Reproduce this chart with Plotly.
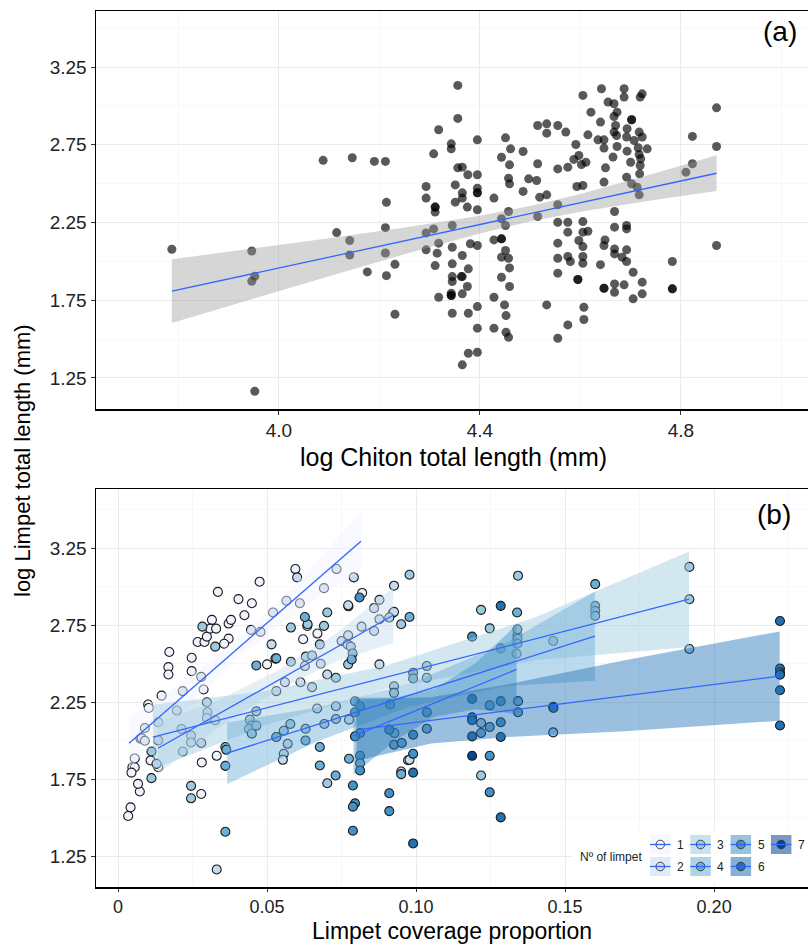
import plotly.graph_objects as go

# ---------------- panel (a): log chiton length vs log limpet length ----------------
chiton_points = [
    (3.787, 2.078), (3.946, 2.067), (3.952, 1.904), (3.946, 1.872), (3.952, 1.164),
    (4.088, 2.650), (4.146, 2.667), (4.115, 2.185), (4.141, 2.134), (4.141, 2.041),
    (4.176, 1.932), (4.190, 2.643), (4.212, 2.643), (4.212, 2.217), (4.212, 2.054),
    (4.214, 2.380), (4.231, 1.981), (4.214, 1.908), (4.231, 1.660),
    (4.356, 3.132), (4.356, 2.920), (4.318, 2.847), (4.343, 2.756), (4.343, 2.724),
    (4.308, 2.692), (4.395, 2.782), (4.451, 2.795), (4.461, 2.724), (4.443, 2.670),
    (4.486, 2.707), (4.459, 2.621), (4.515, 2.874), (4.533, 2.885), (4.533, 2.825),
    (4.555, 2.874), (4.356, 2.602), (4.365, 2.606), (4.376, 2.557), (4.395, 2.557),
    (4.457, 2.535), (4.459, 2.499), (4.497, 2.531), (4.513, 2.520), (4.515, 2.628),
    (4.555, 2.595), (4.293, 2.482), (4.293, 2.407), (4.351, 2.492), (4.365, 2.441),
    (4.365, 2.407), (4.395, 2.471), (4.395, 2.441), (4.351, 2.381), (4.375, 2.349),
    (4.395, 2.332), (4.428, 2.407), (4.486, 2.450), (4.519, 2.413), (4.533, 2.428),
    (4.555, 2.364), (4.311, 2.349), (4.311, 2.317), (4.457, 2.321), (4.443, 2.274),
    (4.451, 2.231), (4.515, 2.289), (4.555, 2.252), (4.345, 2.231), (4.308, 2.209),
    (4.293, 2.183), (4.318, 2.117), (4.293, 2.074), (4.315, 2.053), (4.311, 1.973),
    (4.345, 2.091), (4.381, 2.113), (4.395, 2.102), (4.365, 2.038), (4.345, 1.984),
    (4.345, 1.902), (4.345, 1.870), (4.363, 1.902), (4.377, 1.952), (4.375, 1.838),
    (4.365, 1.791), (4.343, 1.795), (4.343, 1.780), (4.318, 1.769), (4.428, 2.138),
    (4.443, 2.145), (4.443, 2.027), (4.451, 2.070), (4.457, 2.020), (4.459, 1.958),
    (4.443, 1.898), (4.459, 1.838), (4.428, 1.769), (4.449, 1.720), (4.452, 1.651),
    (4.452, 1.544), (4.457, 1.512), (4.428, 1.570), (4.395, 1.709), (4.395, 1.570),
    (4.377, 1.666), (4.345, 1.666), (4.395, 1.415), (4.377, 1.409), (4.365, 1.334),
    (4.555, 2.117), (4.555, 2.020), (4.555, 1.924), (4.533, 1.720), (4.555, 1.505),
    (4.443, 2.145), (4.311, 2.349), (4.395, 2.441), (4.343, 1.780), (4.365, 1.902),
    (4.605, 3.068), (4.642, 3.111), (4.687, 3.111), (4.687, 3.057), (4.723, 3.078),
    (4.719, 3.057), (4.655, 3.025), (4.667, 3.014), (4.673, 2.960), (4.621, 2.960),
    (4.667, 2.932), (4.640, 2.896), (4.702, 2.911), (4.702, 2.911), (4.571, 2.832),
    (4.670, 2.874), (4.667, 2.832), (4.672, 2.810), (4.693, 2.853), (4.717, 2.832),
    (4.723, 2.800), (4.615, 2.814), (4.635, 2.782), (4.647, 2.782), (4.692, 2.800),
    (4.707, 2.778), (4.591, 2.752), (4.647, 2.729), (4.673, 2.739), (4.693, 2.709),
    (4.715, 2.731), (4.717, 2.688), (4.733, 2.724), (4.720, 2.660), (4.597, 2.681),
    (4.587, 2.656), (4.611, 2.638), (4.602, 2.623), (4.665, 2.671), (4.700, 2.638),
    (4.719, 2.617), (4.575, 2.606), (4.650, 2.602), (4.718, 2.563), (4.692, 2.542),
    (4.647, 2.510), (4.593, 2.482), (4.605, 2.488), (4.702, 2.499), (4.713, 2.477),
    (4.717, 2.428), (4.810, 2.574), (4.823, 2.628), (4.823, 2.804), (4.871, 2.988),
    (4.871, 2.739), (4.871, 2.102), (4.783, 1.999), (4.783, 1.823), (4.783, 1.823),
    (4.668, 2.321), (4.668, 2.220), (4.692, 2.231), (4.692, 2.209), (4.575, 2.252),
    (4.575, 2.188), (4.605, 2.256), (4.605, 2.188), (4.615, 2.194), (4.597, 2.134),
    (4.605, 2.095), (4.649, 2.138), (4.647, 2.102), (4.668, 2.080), (4.668, 2.048),
    (4.692, 2.074), (4.683, 2.027), (4.692, 1.999), (4.575, 2.031), (4.580, 1.999),
    (4.605, 2.031), (4.605, 1.988), (4.640, 1.979), (4.705, 1.930), (4.595, 1.883),
    (4.595, 1.883), (4.647, 1.827), (4.647, 1.827), (4.668, 1.855), (4.668, 1.801),
    (4.687, 1.849), (4.723, 1.866), (4.723, 1.791), (4.705, 1.759), (4.607, 1.705),
    (4.607, 1.626), (4.575, 1.591),
]
fit_a_x = [3.787, 4.871]
fit_a_y = [1.808, 2.567]
band_a_x = [3.787, 3.95, 4.10, 4.25, 4.40, 4.50, 4.60, 4.75, 4.871]
band_a_lo = [1.603, 1.761, 1.905, 2.046, 2.180, 2.257, 2.320, 2.396, 2.452]
band_a_hi = [2.013, 2.083, 2.149, 2.218, 2.294, 2.357, 2.434, 2.568, 2.682]

# ---------------- panel (b): limpet coverage vs log limpet length, by Nº of limpet ----------------
g1_pts = [(0.0034, 1.511), (0.0042, 1.567), (0.0073, 1.670), (0.0067, 1.720), (0.0048, 1.828),
          (0.0056, 1.828), (0.0045, 1.793), (0.0056, 1.885), (0.0075, 2.013), (0.0101, 2.235),
          (0.0103, 2.213), (0.0146, 2.293), (0.0172, 2.576), (0.0169, 2.478), (0.0169, 2.430),
          (0.0247, 2.539), (0.0247, 2.452), (0.0287, 2.333), (0.0267, 2.641), (0.0290, 2.641),
          (0.0298, 2.676), (0.0315, 2.785), (0.0309, 2.728), (0.0329, 2.728), (0.0335, 2.967),
          (0.0371, 2.761), (0.0379, 2.785), (0.0371, 2.663), (0.0356, 2.630), (0.0404, 2.920),
          (0.0424, 2.815), (0.0449, 2.893), (0.0475, 3.033), (0.0281, 1.859), (0.0279, 1.654),
          (0.0331, 1.902), (0.0109, 1.872), (0.0135, 1.828), (0.0595, 3.115), (0.0669, 2.696),
          (0.0621, 2.659), (0.0635, 2.745), (0.0500, 2.496), (0.0773, 2.873), (0.0819, 2.960),
          (0.0922, 2.830), (0.0973, 1.873)]
g2_pts = [(0.0090, 2.083), (0.0079, 2.017), (0.0090, 2.000), (0.0135, 2.120), (0.0135, 2.002),
          (0.0197, 2.196), (0.0213, 2.076), (0.0245, 2.033), (0.0245, 1.989), (0.0279, 1.985),
          (0.0217, 1.930), (0.0298, 2.250), (0.0300, 2.185), (0.0298, 2.148), (0.0326, 2.133),
          (0.0279, 2.415), (0.0217, 2.322), (0.0129, 1.850), (0.0446, 2.720), (0.0478, 2.707),
          (0.0515, 2.626), (0.0331, 1.164), (0.0601, 3.061), (0.0733, 3.115), (0.0791, 3.061),
          (0.0691, 2.991), (0.0565, 2.909), (0.0610, 2.893), (0.0520, 2.833), (0.0772, 2.880),
          (0.0750, 2.648), (0.0772, 2.685), (0.0817, 2.741), (0.0770, 2.626), (0.0877, 2.915),
          (0.0859, 2.861), (0.0926, 3.007), (0.0877, 2.789), (0.0859, 2.713), (0.0926, 2.837),
          (0.0877, 2.496), (0.0680, 2.500), (0.0627, 2.485), (0.0560, 2.380), (0.0612, 2.380),
          (0.0531, 2.322), (0.0651, 2.348), (0.0702, 2.430), (0.0668, 2.209), (0.0731, 2.224),
          (0.0775, 2.137), (0.0569, 1.980), (0.0556, 1.915), (0.0553, 1.876), (0.0978, 1.876),
          (0.0950, 1.800)]
g3_pts = [(0.0112, 1.930), (0.0112, 1.757), (0.0283, 2.741), (0.0326, 2.611), (0.0245, 1.707),
          (0.0245, 1.626), (0.0442, 2.137), (0.0449, 2.098), (0.0439, 2.076), (0.0449, 2.046),
          (0.0464, 2.098), (0.0464, 2.191), (0.0702, 2.833), (0.0636, 2.757), (0.0580, 2.735),
          (0.0691, 2.746), (0.0677, 2.626), (0.0781, 2.611), (0.0772, 2.496), (0.0978, 3.078),
          (0.0910, 2.800), (0.0950, 2.757), (0.0630, 2.546), (0.0651, 2.554), (0.0580, 2.513),
          (0.0731, 2.409), (0.0692, 2.109), (0.0731, 2.141), (0.0629, 2.078), (0.0578, 2.109),
          (0.0556, 2.065), (0.0531, 2.024), (0.0702, 1.724), (0.0926, 2.354), (0.0926, 2.311),
          (0.0927, 2.050), (0.1036, 2.485), (0.1036, 2.409), (0.1342, 3.072), (0.1218, 2.850),
          (0.1247, 2.730), (0.1337, 2.565), (0.1460, 2.648), (0.1460, 2.220), (0.1218, 2.115),
          (0.1460, 2.054), (0.1218, 1.774), (0.1917, 3.129), (0.1917, 2.919), (0.1917, 2.596),
          (0.1340, 2.685)]
g4_pts = [(0.0360, 1.959), (0.0363, 1.941), (0.0360, 1.837), (0.0360, 1.409), (0.0464, 2.489),
          (0.0528, 2.533), (0.0531, 2.024), (0.0627, 2.804), (0.0531, 2.535), (0.0787, 2.567),
          (0.0784, 2.528), (0.0795, 2.256), (0.0812, 2.224), (0.0812, 2.050), (0.0629, 2.002),
          (0.0677, 1.959), (0.0677, 1.839), (0.0730, 1.774), (0.0775, 1.883), (0.0812, 1.902),
          (0.0812, 1.854), (0.0913, 2.235), (0.0978, 2.804), (0.0926, 1.974), (0.0952, 1.985),
          (0.1036, 2.185), (0.1036, 2.078), (0.0990, 2.441), (0.0990, 2.404), (0.1339, 2.833),
          (0.1340, 2.724), (0.1340, 2.663), (0.1340, 2.630), (0.1284, 2.600), (0.1601, 3.017),
          (0.1601, 2.876), (0.1601, 2.843), (0.1601, 2.811), (0.1247, 2.230), (0.1342, 2.257),
          (0.1342, 2.185), (0.1247, 2.089), (0.1218, 2.050), (0.0950, 1.783)]
g5_pts = [(0.0795, 2.185), (0.0795, 2.028), (0.0812, 1.807), (0.0788, 1.709), (0.0795, 1.593),
          (0.0788, 1.572), (0.0788, 1.415), (0.0910, 2.072), (0.0990, 2.039), (0.0990, 1.915),
          (0.0910, 1.659), (0.0910, 1.543), (0.1188, 2.676), (0.1284, 2.257), (0.1284, 2.120),
          (0.1247, 1.902), (0.1247, 1.665), (0.0810, 2.930)]
g6_pts = [(0.0990, 1.793), (0.0990, 1.333), (0.1284, 2.876), (0.1188, 2.272), (0.1188, 2.152),
          (0.1188, 2.133), (0.1188, 2.028), (0.1284, 2.024), (0.1284, 1.502), (0.2221, 2.778),
          (0.2221, 2.469), (0.2221, 2.443), (0.2221, 2.429), (0.2221, 2.328), (0.2221, 2.099),
          (0.1461, 2.213)]
g7_pts = [(0.1188, 1.902)]

group_labels = ["1", "2", "3", "4", "5", "6", "7"]
group_colors = ["#EFF3FF", "#C6DBEF", "#9ECAE1", "#6BAED6", "#4292C6", "#2171B5", "#084594"]

fit_b_x0 = [0.0037, 0.0134, 0.0117, 0.0366, 0.0790, 0.0800]
fit_b_x1 = [0.0815, 0.0923, 0.1916, 0.1600, 0.1337, 0.2220]
fit_b_y0 = [1.984, 1.951, 2.023, 1.919, 2.030, 2.070]
fit_b_y1 = [3.295, 2.815, 2.919, 2.679, 2.463, 2.420]

band_b_x = [[0.0037, 0.023, 0.042, 0.062, 0.0815],
            [0.0134, 0.033, 0.053, 0.073, 0.0923],
            [0.0117, 0.050, 0.090, 0.140, 0.1916],
            [0.0366, 0.067, 0.098, 0.130, 0.1600],
            [0.0790, 0.093, 0.106, 0.120, 0.1337],
            [0.0800, 0.105, 0.130, 0.170, 0.2220]]
band_b_lo = [[1.814, 2.219, 2.564, 2.866, 3.105],
             [1.781, 2.076, 2.320, 2.514, 2.635],
             [1.813, 2.104, 2.338, 2.522, 2.609],
             [1.719, 1.996, 2.222, 2.354, 2.389],
             [1.780, 2.001, 2.154, 2.205, 2.173],
             [1.870, 1.982, 2.023, 2.062, 2.130]]
band_b_hi = [[2.154, 2.399, 2.694, 3.066, 3.485],
             [2.121, 2.256, 2.450, 2.694, 2.995],
             [2.233, 2.324, 2.488, 2.802, 3.229],
             [2.119, 2.216, 2.372, 2.634, 2.969],
             [2.280, 2.281, 2.334, 2.505, 2.753],
             [2.270, 2.282, 2.363, 2.522, 2.710]]

# ---------------- styling ----------------
FONT = "Liberation Sans, Arial, Helvetica, sans-serif"
FIT_COLOR = "#3366FF"
BAND_ALPHA = 0.45
W, H = 808, 945
ML, MR, MT, MB = 96, 0, 11, 58
PW, PH = W - ML - MR, H - MT - MB


def rgba(hex_color, a):
    h = hex_color.lstrip("#")
    r, g, b = int(h[0:2], 16), int(h[2:4], 16), int(h[4:6], 16)
    return f"rgba({r},{g},{b},{a})"


def pxx(px):
    return (px - ML) / PW


def pxy(py):
    return (H - MB - py) / PH


fig = go.Figure()

# panel (a)
ax_x = [p[0] for p in chiton_points]
ax_y = [p[1] for p in chiton_points]
fig.add_trace(go.Scatter(x=ax_x, y=ax_y, mode="markers", xaxis="x", yaxis="y",
                         marker=dict(size=9, color="rgba(0,0,0,0.65)", line=dict(width=0)),
                         showlegend=False, hoverinfo="skip"))
fig.add_trace(go.Scatter(x=band_a_x + band_a_x[::-1], y=band_a_hi + band_a_lo[::-1],
                         xaxis="x", yaxis="y", mode="lines", fill="toself",
                         fillcolor="rgba(153,153,153,0.4)", line=dict(width=0),
                         showlegend=False, hoverinfo="skip"))
fig.add_trace(go.Scatter(x=fit_a_x, y=fit_a_y, mode="lines", xaxis="x", yaxis="y",
                         line=dict(color=FIT_COLOR, width=1.3), showlegend=False, hoverinfo="skip"))

# panel (b) points
for pts, col in zip([g1_pts, g2_pts, g3_pts, g4_pts, g5_pts, g6_pts, g7_pts], group_colors):
    fig.add_trace(go.Scatter(x=[p[0] for p in pts], y=[p[1] for p in pts], mode="markers",
                             xaxis="x2", yaxis="y2",
                             marker=dict(size=9, color=col, line=dict(width=1.1, color="#1a1a1a")),
                             showlegend=False, hoverinfo="skip"))
# panel (b) bands
for i in range(len(band_b_x)):
    bx, lo, hi = band_b_x[i], band_b_lo[i], band_b_hi[i]
    fig.add_trace(go.Scatter(x=bx + bx[::-1], y=hi + lo[::-1], mode="lines", fill="toself",
                             xaxis="x2", yaxis="y2", fillcolor=rgba(group_colors[i], BAND_ALPHA),
                             line=dict(width=0), showlegend=False, hoverinfo="skip"))
# panel (b) fit lines
for i in range(len(fit_b_x0)):
    fig.add_trace(go.Scatter(x=[fit_b_x0[i], fit_b_x1[i]], y=[fit_b_y0[i], fit_b_y1[i]],
                             mode="lines", xaxis="x2", yaxis="y2",
                             line=dict(color=FIT_COLOR, width=1.3), showlegend=False, hoverinfo="skip"))

axis_common = dict(showgrid=True, gridcolor="#EBEBEB", gridwidth=1, zeroline=False,
                   showline=True, linecolor="black", linewidth=1.5,
                   ticks="outside", ticklen=4, tickwidth=1, tickcolor="#333333",
                   tickfont=dict(family=FONT, size=19, color="#222222"))

top_dom = [pxy(409), 1.0]
bot_dom = [0.0, pxy(489)]

fig.update_layout(
    width=W, height=H, margin=dict(l=ML, r=MR, t=MT, b=MB),
    paper_bgcolor="white", plot_bgcolor="white", showlegend=False,
    xaxis=dict(axis_common, domain=[0, 1], anchor="y", range=[3.636, 5.053],
               tick0=4.0, dtick=0.4, tickformat=".1f", mirror=True,
               minor=dict(showgrid=True, gridcolor="#F3F3F3", gridwidth=0.6, tick0=3.8, dtick=0.2)),
    yaxis=dict(axis_common, domain=top_dom, anchor="x", range=[1.05, 3.611],
               tick0=1.25, dtick=0.5, tickformat=".2f",
               minor=dict(showgrid=True, gridcolor="#F3F3F3", gridwidth=0.6, tick0=1.0, dtick=0.25)),
    xaxis2=dict(axis_common, domain=[0, 1], anchor="y2", range=[-0.0074, 0.2315],
                tickvals=[0, 0.05, 0.10, 0.15, 0.20], ticktext=["0", "0.05", "0.10", "0.15", "0.20"],
                mirror=True, ticklen=3,
                tickfont=dict(family=FONT, size=18, color="#222222"),
                minor=dict(showgrid=True, gridcolor="#F3F3F3", gridwidth=0.6, tick0=0, dtick=0.025)),
    yaxis2=dict(axis_common, domain=bot_dom, anchor="x2", range=[1.05, 3.635],
                tick0=1.25, dtick=0.5, tickformat=".2f",
                minor=dict(showgrid=True, gridcolor="#F3F3F3", gridwidth=0.6, tick0=1.0, dtick=0.25)),
)

annotations = [
    dict(text="log Chiton total length (mm)", x=pxx(454), y=pxy(457), xref="paper", yref="paper",
         showarrow=False, xanchor="center", yanchor="middle", font=dict(family=FONT, size=25, color="black")),
    dict(text="Limpet coverage proportion", x=pxx(452), y=pxy(931), xref="paper", yref="paper",
         showarrow=False, xanchor="center", yanchor="middle", font=dict(family=FONT, size=23, color="black")),
    dict(text="log Limpet total length (mm)", x=pxx(22), y=pxy(461), xref="paper", yref="paper",
         showarrow=False, xanchor="center", yanchor="middle", textangle=-90,
         font=dict(family=FONT, size=22, color="black")),
    dict(text="(a)", x=pxx(780), y=pxy(31), xref="paper", yref="paper", showarrow=False,
         xanchor="center", yanchor="middle", font=dict(family=FONT, size=28, color="black")),
    dict(text="(b)", x=pxx(774), y=pxy(514), xref="paper", yref="paper", showarrow=False,
         xanchor="center", yanchor="middle", font=dict(family=FONT, size=28, color="black")),
    dict(text="Nº of limpet", x=pxx(644), y=pxy(857), xref="paper", yref="paper", showarrow=False,
         xanchor="right", yanchor="middle", font=dict(family=FONT, size=12, color="#222222")),
]

shapes = [dict(type="rect", xref="paper", yref="paper", x0=pxx(572), x1=pxx(808), y0=pxy(884), y1=pxy(831),
               fillcolor="white", line=dict(width=0), layer="above")]
for k in range(7):
    col, row = k // 2, k % 2
    kx0 = 650 + 40.3 * col
    ky0 = 835 + 22 * row
    kx1, ky1 = kx0 + 20.5, ky0 + 19
    cx, cy = (kx0 + kx1) / 2, (ky0 + ky1) / 2
    shapes.append(dict(type="rect", xref="paper", yref="paper", x0=pxx(kx0), x1=pxx(kx1),
                       y0=pxy(ky1), y1=pxy(ky0), fillcolor=rgba(group_colors[k], BAND_ALPHA + 0.1),
                       line=dict(width=0), layer="above"))
    shapes.append(dict(type="circle", xref="paper", yref="paper", x0=pxx(cx - 4.3), x1=pxx(cx + 4.3),
                       y0=pxy(cy + 4.3), y1=pxy(cy - 4.3), fillcolor=group_colors[k],
                       line=dict(width=0.9, color="#333333"), layer="above"))
    shapes.append(dict(type="line", xref="paper", yref="paper", x0=pxx(kx0), x1=pxx(kx1),
                       y0=pxy(cy), y1=pxy(cy), line=dict(width=1.3, color=FIT_COLOR), layer="above"))
    annotations.append(dict(text=group_labels[k], x=pxx(kx1 + 10), y=pxy(cy), xref="paper", yref="paper",
                            showarrow=False, xanchor="center", yanchor="middle",
                            font=dict(family=FONT, size=12, color="#222222")))

fig.update_layout(annotations=annotations, shapes=shapes)
fig.write_html("out.html", config={"displayModeBar": False, "staticPlot": True},
               post_script="document.body.style.margin='0';document.body.style.overflow='hidden';")
